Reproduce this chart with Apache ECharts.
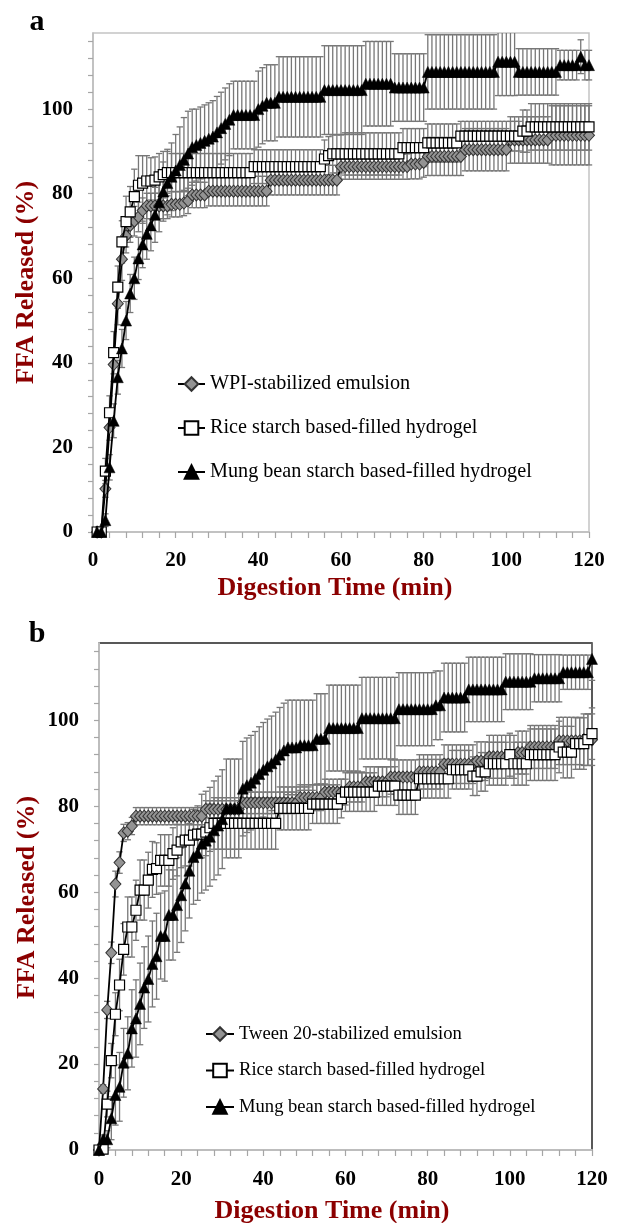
<!DOCTYPE html>
<html><head><meta charset="utf-8">
<script src="https://cdn.jsdelivr.net/npm/echarts@6/dist/echarts.min.js"></script>
<style>html,body{margin:0;padding:0;background:#fff}#c{width:620px;height:1223px}</style>
</head><body><div id="c"></div>
<script>
// ---------- DATA ----------
const xLabelValues = [0, 20, 40, 60, 80, 100, 120];
const yLabelValues = [0, 20, 40, 60, 80, 100];
const xTickValues = [0,4,8,12,16,20,24,28,32,36,40,44,48,52,56,60,64,68,72,76,80,84,88,92,96,100,104,108,112,116,120];
const yTickValues = [0,4,8,12,16,20,24,28,32,36,40,44,48,52,56,60,64,68,72,76,80,84,88,92,96,100,104,108,112,116];

const legendA = ['WPI-stabilized emulsion', 'Rice starch based-filled hydrogel', 'Mung bean starch based-filled hydrogel'];
const legendB = ['Tween 20-stabilized emulsion', 'Rice starch based-filled hydrogel', 'Mung bean starch based-filled hydrogel'];

// Panel a: digestion time (min)
const timesA = [1,2,3,4,5,6,7,8,9,10,11,12,13,14,15,16,17,18,19,20,21,22,23,24,25,26,27,28,29,30,
31,32,33,34,35,36,37,38,39,40,41,42,43,44,45,46,47,48,49,50,51,52,53,54,55,56,57,58,59,60,
61,62,63,64,65,66,67,68,69,70,71,72,73,74,75,76,77,78,79,80,81,82,83,84,85,86,87,88,89,90,
91,92,93,94,95,96,97,98,99,100,101,102,103,104,105,106,107,108,109,110,111,112,113,114,115,116,117,118,119,120];

const wpiA = [
0,0,10.2,24.7,39.6,54,64.5,70,72.5,73.5,
74.5,76,77.1,77.1,77.1,77.1,77.1,77.1,77.5,77.5,
77.5,77.8,78.3,79.7,79.7,79.7,79.7,80.6,80.6,80.6,
80.6,80.6,80.6,80.6,80.6,80.6,80.6,80.6,80.6,80.6,
80.6,80.6,83.2,83.2,83.2,83.2,83.2,83.2,83.2,83.2,
83.2,83.2,83.2,83.2,83.2,83.2,83.2,83.2,83.2,86.4,
86.4,86.4,86.4,86.4,86.4,86.4,86.4,86.4,86.4,86.4,
86.4,86.4,86.4,86.4,86.4,86.4,87,87,87,87.4,
88.8,88.8,88.8,88.8,88.8,88.8,88.8,88.8,88.8,90.4,
90.4,90.4,90.4,90.4,90.4,90.4,90.4,90.4,90.4,90.4,
92.7,92.7,92.7,92.7,92.7,92.7,92.7,92.7,92.7,92.7,
93.8,93.8,93.8,93.8,93.8,93.8,93.8,93.8,93.8,93.8];
const wpiErrA = [
0,0,2,3,4,5,5,4,4,3.5,
3.5,3,3,3,3,3,3,3,3,3,
3,3,3,3,3,3,3,3.5,3.5,3.5,
3.5,3.5,3.5,3.5,3.5,3.5,3.5,3.5,3.5,3.5,
3.5,3.5,3.5,3.5,3.5,3.5,3.5,3.5,3.5,3.5,
3.5,3.5,3.5,3.5,3.5,3.5,3.5,3.5,3.5,3,
3,3,3,3,3,3,3,3,3,3,
3,3,3,3,3,3,3.5,3.5,3.5,3.5,
4.5,4.5,4.5,4.5,4.5,4.5,4.5,4.5,4.5,5,
5,5,5,5,5,5,5,5,5,5,
5.5,5.5,5.5,5.5,5.5,5.5,5.5,5.5,5.5,5.5,
7,7,7,7,7,7,7,7,7,7];

const riceA = [
0,0,14.4,28.2,42.4,57.9,68.6,73.4,75.7,79.3,
82,82.5,83,83,83.2,84,84.5,85,85,85,
85,85,85,85,85,85,85,85,85,85,
85,85,85,85,85,85,85,85,86.4,86.4,
86.4,86.4,86.4,86.4,86.4,86.4,86.4,86.4,86.4,86.4,
86.4,86.4,86.4,86.4,86.4,88.2,89,89.4,89.4,89.4,
89.4,89.4,89.4,89.4,89.4,89.4,89.4,89.4,89.4,89.4,
89.4,89.4,89.4,89.4,90.9,90.9,90.9,90.9,90.9,90.9,
92,92,92,92,92,92,92,92,93.6,93.6,
93.6,93.6,93.6,93.6,93.6,93.6,93.6,93.6,93.6,93.6,
93.6,93.6,93.6,94.8,94.8,95.8,95.8,95.8,95.8,95.8,
95.8,95.8,95.8,95.8,95.8,95.8,95.8,95.8,95.8,95.8];
const riceErrA = [
0,0,3,4,5,5,5,6,6,6.5,
7,6.5,6,5.5,5.5,5.5,5.5,5.5,4.5,4.5,
4.5,4.5,4.5,4.5,4.5,4.5,4.5,4.5,4.5,4.5,
4.5,4.5,4.5,4.5,4.5,4.5,4.5,4.5,4,4,
4,4,4,4,4,4,4,4,4,4,
4,4,4,4,4,4.5,4.5,4.5,4.5,4.5,
5,5,5,5,5,5,5,5,5,5,
5,5,5,5,4.5,4.5,4.5,4.5,4.5,4.5,
4.5,4.5,4.5,4.5,4.5,4.5,4.5,4.5,3.5,3.5,
3.5,3.5,3.5,3.5,3.5,3.5,3.5,3.5,3.5,3.5,
3.5,3.5,3.5,5,5,5.5,5.5,5.5,5.5,5.5,
5.5,5.5,5.5,5.5,5.5,5.5,5.5,5.5,5.5,5.5];

const mungA = [
0,0,2.8,15.3,26.3,36.6,43.4,50,56.4,60,
64.7,68,70.5,72.5,75,78,80.5,82.5,84,85.5,
86.8,88,89.5,91,91.5,92,92.5,93,93.5,94.5,
95.5,96.5,97.5,98.6,98.6,98.6,98.6,98.6,98.6,100,
100.8,101.5,101.5,101.5,102.9,102.9,102.9,102.9,102.9,102.9,
102.9,102.9,102.9,102.9,102.9,104.5,104.5,104.5,104.5,104.5,
104.5,104.5,104.5,104.5,104.5,106,106,106,106,106,
106,106,105.1,105.1,105.1,105.1,105.1,105.1,105.1,105.1,
108.8,108.8,108.8,108.8,108.8,108.8,108.8,108.8,108.8,108.8,
108.8,108.8,108.8,108.8,108.8,108.8,108.8,111.2,111.2,111.2,
111.2,111.2,108.8,108.8,108.8,108.8,108.8,108.8,108.8,108.8,
108.8,108.8,110.4,110.4,110.4,110.4,110.4,112.4,110.4,110.4];
const mungErrA = [
0,0,1.5,3,4,4,4.5,4.5,4.5,5,
5,5.5,6,6,6.5,7,7,7.5,8,8.5,
9,10,10,9,8.5,8.5,8.5,8.5,8.5,8.5,
8.5,8.5,8.5,8,8,8,8,8,8,9,
9,9,9,9,9.5,9.5,9.5,9.5,9.5,9.5,
9.5,9.5,9.5,9.5,9.5,10.5,10.5,10.5,10.5,10.5,
10.5,10.5,10.5,10.5,10.5,10,10,10,10,10,
10,10,8,8,8,8,8,8,8,8,
8.8,8.8,8.8,8.8,8.8,8.8,8.8,8.8,8.8,8.8,
8.8,8.8,8.8,8.8,8.8,8.8,8.8,8,8,8,
8,8,5.5,5.5,5.5,5.5,5.5,5.5,5.5,5.5,
5.5,5.5,3.5,3.5,3.5,3.5,3.5,4,3.5,3.5];

// Panel b
const timesB = [0,1,2,3,4,5,6,7,8,9,10,11,12,13,14,15,16,17,18,19,20,21,22,23,24,25,26,27,28,29,30,
31,32,33,34,35,36,37,38,39,40,41,42,43,44,45,46,47,48,49,50,51,52,53,54,55,56,57,58,59,60,
61,62,63,64,65,66,67,68,69,70,71,72,73,74,75,76,77,78,79,80,81,82,83,84,85,86,87,88,89,90,
91,92,93,94,95,96,97,98,99,100,101,102,103,104,105,106,107,108,109,110,111,112,113,114,115,116,117,118,119,120];

const tweenB = [0,
14.2,32.6,45.9,61.9,66.9,73.8,74.2,75.4,77.7,77.7,
77.7,77.7,77.7,77.7,77.7,77.7,77.7,77.7,77.7,77.7,
77.7,77.7,77.7,77.7,77.7,79.3,79.3,79.3,79.3,79.3,
79.3,79.3,79.3,79.3,80.8,80.8,80.8,80.8,80.8,80.8,
80.8,80.8,80.8,80.8,80.8,80.8,80.8,80.8,82,82,
82,82,82,82,83.3,83.3,83.3,83.3,83.3,83.3,
84.5,84.5,84.5,84.5,85.7,85.7,85.7,85.7,85.7,85.7,
86.8,86.8,86.8,86.8,86.8,86.8,86.8,88,88,88,
88,88,88,89.8,89.8,89.8,89.8,89.8,89.8,89.8,
89.8,90.5,90.5,90.5,91.5,91.5,91.5,91.5,91.5,91.5,
91.5,92.5,92.5,92.5,93.8,93.8,93.8,93.8,93.8,93.8,
93.8,95.2,95.2,95.2,95.2,95.2,95.2,95.5,95.5,95.5];
const tweenErrB = [0,
1,2,2.5,3,2.5,2,2,2,2,2,
2,2,2,2,2,2,2,2,2,2,
2,2,2,2,2,2,2,2,2,2,
2,2,2,2,2.5,2.5,2.5,2.5,2.5,2.5,
2.5,2.5,2.5,2.5,2.5,2.5,2.5,2.5,3,3,
3,3,3,3,3,3,3,3,3,3,
3.5,3.5,3.5,3.5,3.5,3.5,3.5,3.5,3.5,3.5,
4,4,4,4,4,4,4,4,4,4,
4,4,4,4.5,4.5,4.5,4.5,4.5,4.5,4.5,
4.5,4.5,4.5,4.5,5,5,5,5,5,5,
5,5,5,5,5,5,5,5,5,5,
5,5.5,5.5,5.5,5.5,5.5,5.5,6,6,6];

const riceB = [0,
0.2,10.7,20.8,31.6,38.4,46.7,51.9,51.9,55.8,60.5,
60.5,62.8,65.3,65.5,67.4,67.4,67.4,69,69.8,71.7,
72.1,72.1,73.3,73.5,73.5,74,75,76,76,76,
76,76,76,76,76,76,76,76,76,76,
76,76,76,79.5,79.5,79.5,79.5,79.5,79.5,79.5,
79.5,80.5,80.5,80.5,80.5,80.5,80.5,80.5,81.8,83.3,
83.3,83.3,83.3,83.3,83.3,83.3,83.3,84.7,84.7,84.7,
84.7,84.7,82.6,82.6,82.6,82.6,82.6,86.4,86.4,86.4,
86.4,86.4,86.4,86.4,86.4,88.5,88.5,88.5,88.5,88.5,
87,87,88,88,89.9,89.9,89.9,89.9,89.9,92,
89.9,89.9,89.9,89.9,92,92,92,92,92,92,
92,93.8,92.6,92.6,92.6,94.6,94.6,94.6,95.5,96.9];
const riceErrB = [0,
1,3,4,5,6,6,7,7,7,7,
7,6.5,6.5,6,6,6,6,6,6,6,
6,6,6,5.5,5.5,5.5,5.5,6,6,6,
6,6,6,6,6,6,6,6,6,6,
6,6,6,5,5,5,5,5,5,5,
5,4.5,4.5,4.5,4.5,4.5,4.5,4.5,4.5,4.5,
4.5,4.5,4.5,4.5,4.5,4.5,4.5,4.5,4.5,4.5,
4.5,4.5,4.5,4.5,4.5,4.5,4.5,4.5,4.5,4.5,
4.5,4.5,4.5,4.5,4.5,4.5,4.5,4.5,4.5,4.5,
4.5,4.5,4.5,4.5,5,5,5,5,5,5,
5,5,5,5,6,6,6,6,6,6,
6,6,6,6,6,6,6,6,6,6];

const mungB = [0,
2.5,2.5,7.4,12.8,14.7,20.3,22.5,28.3,30.6,34,
37.8,39.8,43.3,45.1,49.8,49.8,54.7,54.7,57,59.3,
62,65,68.2,69.1,71.3,72,72.9,74.4,75.5,77,
79.5,79.5,79.5,79.5,84.1,84.9,85.5,86.4,87.5,88.5,
89.3,90,90.9,92,93,93.7,93.7,93.7,94.2,94.2,
94.2,94.2,95.7,95.7,95.7,98.2,98.2,98.2,98.2,98.2,
98.2,98.2,98.2,100.5,100.5,100.5,100.5,100.5,100.5,100.5,
100.5,100.5,102.6,102.6,102.6,102.6,102.6,102.6,102.6,102.6,
102.6,103.5,103.5,105.3,105.3,105.3,105.3,105.3,105.3,107.2,
107.2,107.2,107.2,107.2,107.2,107.2,107.2,107.2,109,109,
109,109,109,109,109,109.8,109.8,109.8,109.8,109.8,
109.8,109.8,111.2,111.2,111.2,111.2,111.2,111.2,111.2,114.3];
const mungErrB = [0,
1,2,5,7,8,8,8.5,9,9,9.5,
9.5,10,10,10,10,10.5,10.5,10.5,11,11,
11,11,11,11,11.5,11.5,11.5,11.5,11.5,11.5,
11.5,11.5,11.5,11.5,11,11,11,11,11,11,
11,11,11,11,11,11,11,11,10.5,10.5,
10.5,10.5,10.5,10.5,10.5,10,10,10,10,10,
10,10,10,9.5,9.5,9.5,9.5,9.5,9.5,9.5,
9.5,9.5,8.5,8.5,8.5,8.5,8.5,8.5,8.5,8.5,
8.5,8,8,8,8,8,8,8,8,7.5,
7.5,7.5,7.5,7.5,7.5,7.5,7.5,7.5,6.5,6.5,
6.5,6.5,6.5,6.5,6.5,5.5,5.5,5.5,5.5,5.5,
5.5,5.5,4,4,4,4,4,4,4,5];

// ---------- CHART ----------
const FONT = 'Liberation Serif';
const YMAX = 118;
const DARKRED = '#8B0000';

const chart = echarts.init(document.getElementById('c'), null, {renderer: 'canvas'});

function pairs(t, v) { return t.map((x, i) => [x, v[i]]); }
function triples(t, v, e) { return t.map((x, i) => [x, v[i], e[i]]); }

function errRender(params, api) {
  const x = api.value(0), v = api.value(1), e = api.value(2);
  if (!e) return null;
  const hiV = Math.min(v + e, YMAX);
  const loV = Math.max(v - e, 0);
  const top = api.coord([x, hiV]);
  const bot = api.coord([x, loV]);
  const hw = 3.2;
  const style = {stroke: '#777777', lineWidth: 1.3, fill: null};
  const ch = [{type: 'line', shape: {x1: top[0], y1: top[1], x2: bot[0], y2: bot[1]}, style}];
  if (v + e <= YMAX) ch.push({type: 'line', shape: {x1: top[0] - hw, y1: top[1], x2: top[0] + hw, y2: top[1]}, style});
  ch.push({type: 'line', shape: {x1: bot[0] - hw, y1: bot[1], x2: bot[0] + hw, y2: bot[1]}, style});
  return {type: 'group', children: ch};
}

function errSeries(gi, t, v, e) {
  return {type: 'custom', xAxisIndex: gi, yAxisIndex: gi, data: triples(t, v, e),
    renderItem: errRender, encode: {x: 0, y: 1}, z: 1, silent: true};
}

const STY = {
  diamond: {symbol: 'diamond', symbolSize: [11, 12], itemStyle: {color: '#939393', borderColor: '#333333', borderWidth: 1}},
  square: {symbol: 'rect', symbolSize: 10, itemStyle: {color: '#ffffff', borderColor: '#000', borderWidth: 1.2}},
  tri: {symbol: 'triangle', symbolSize: 11, itemStyle: {color: '#000', borderColor: '#000', borderWidth: 0.5}}
};

function lineSeries(gi, name, t, v, sty, z) {
  return Object.assign({type: 'line', name, xAxisIndex: gi, yAxisIndex: gi, data: pairs(t, v),
    showSymbol: true, lineStyle: {color: '#000', width: 1.8}, z, emphasis: {disabled: true}}, sty);
}

function mkX(i) {
  return {type: 'value', gridIndex: i, min: 0, max: 120, interval: 20,
    axisLine: {show: true, onZero: false, lineStyle: {color: '#bdbdbd', width: i ? 2 : 1.5}},
    axisTick: {show: true, length: 6, customValues: xTickValues, lineStyle: {color: '#a6a6a6', width: 1.2}},
    axisLabel: {customValues: xLabelValues, fontFamily: FONT, fontWeight: 'bold', fontSize: 21, color: '#000', margin: i ? 19 : 18},
    splitLine: {show: false}};
}
function mkY(i) {
  return {type: 'value', gridIndex: i, min: 0, max: YMAX, interval: 20,
    axisLine: {show: true, onZero: false, lineStyle: {color: '#bdbdbd', width: i ? 2 : 1.5}},
    axisTick: {show: true, length: 5, customValues: yTickValues, lineStyle: {color: '#a6a6a6', width: 1.2}},
    axisLabel: {customValues: yLabelValues, fontFamily: FONT, fontWeight: 'bold', fontSize: 21, color: '#000', margin: 20},
    splitLine: {show: false}};
}

function txt(s, x, y, size, color, rot) {
  return {type: 'text', x, y, rotation: rot || 0, silent: true,
    style: {text: s, fontFamily: FONT, fontWeight: 'bold', fontSize: size, fill: color,
      textAlign: 'center', textVerticalAlign: 'middle'}};
}

const option = {
  animation: false,
  backgroundColor: '#ffffff',
  grid: [
    {left: 93, top: 33, width: 496, height: 499, show: true, borderColor: '#c4c4c4', borderWidth: 1.5, backgroundColor: 'transparent'},
    {left: 99, top: 643, width: 493, height: 507, show: true, borderColor: '#222222', borderWidth: 1.5, backgroundColor: 'transparent'}
  ],
  xAxis: [mkX(0), mkX(1)],
  yAxis: [mkY(0), mkY(1)],
  legend: [
    {data: legendA, orient: 'vertical', left: 177, top: 374, padding: 0, itemWidth: 27, itemHeight: 17, itemGap: 24,
      selectedMode: false, textStyle: {fontFamily: FONT, fontSize: 20.2, color: '#000', lineHeight: 20}},
    {data: legendB, orient: 'vertical', left: 205, top: 1024, padding: 0, itemWidth: 28, itemHeight: 17, itemGap: 16.5,
      selectedMode: false, textStyle: {fontFamily: FONT, fontSize: 18.6, color: '#000', lineHeight: 20}}
  ],
  graphic: [
    txt('a', 37, 22, 30, '#000'),
    txt('b', 37, 634, 30, '#000'),
    txt('FFA Released (%)', 26, 282.5, 26, DARKRED, Math.PI / 2),
    txt('FFA Released (%)', 27, 897.5, 26, DARKRED, Math.PI / 2),
    txt('Digestion Time (min)', 335, 588, 26, DARKRED),
    txt('Digestion Time (min)', 332, 1211, 26, DARKRED)
  ],
  series: [
    errSeries(0, timesA, wpiA, wpiErrA),
    errSeries(0, timesA, riceA, riceErrA),
    errSeries(0, timesA, mungA, mungErrA),
    lineSeries(0, legendA[0], timesA, wpiA, STY.diamond, 3),
    lineSeries(0, legendA[1], timesA, riceA, STY.square, 4),
    lineSeries(0, legendA[2], timesA, mungA, STY.tri, 5),
    errSeries(1, timesB, tweenB, tweenErrB),
    errSeries(1, timesB, riceB, riceErrB),
    errSeries(1, timesB, mungB, mungErrB),
    lineSeries(1, legendB[0], timesB, tweenB, STY.diamond, 3),
    lineSeries(1, legendB[1], timesB, riceB, STY.square, 4),
    lineSeries(1, legendB[2], timesB, mungB, STY.tri, 5)
  ]
};
chart.setOption(option);
</script>
</body></html>
